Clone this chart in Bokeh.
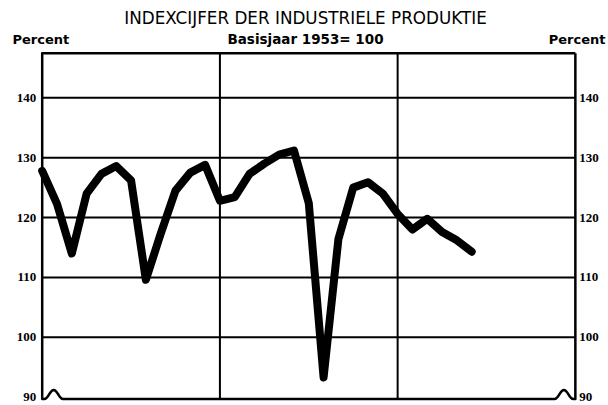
import numpy as np
from bokeh.plotting import figure
from bokeh.models import Label, Range1d
from bokeh.embed import file_html
from bokeh.resources import INLINE

# ---- data (monthly index, base 1953 = 100) ----
months = list(range(30))
index = [127.8, 122.3, 114.0, 124.0, 127.3, 128.6, 126.2, 109.6, 117.3, 124.5,
         127.5, 128.8, 122.8, 123.4, 127.3, 129.0, 130.5, 131.2, 122.4, 93.3,
         116.4, 125.0, 125.9, 124.0, 120.6, 118.0, 119.8, 117.6, 116.2, 114.3]
year_lines = [12, 24]
y_ticks = [90, 100, 110, 120, 130, 140]
y_tick_labels = ["90", "100", "110", "120", "130", "140"]
grid_ticks = [100, 110, 120, 130, 140]
x_start, x_end = 0, 36          # three years of months
y_top = 147.45
y_base = 89.7

title_text = "INDEXCIJFER DER INDUSTRIELE PRODUKTIE"
subtitle_text = "Basisjaar 1953= 100"
unit_text = "Percent"

# ---- layout (pixels) ----
W, H = 608, 405
X0_PX, PX_PER_MONTH = 41.7, 14.81      # canvas x of month 0, px per month
Y90_PX, PX_PER_UNIT = 396.7, 5.988     # canvas y of 90, px per index point
xr0 = x_start - X0_PX / PX_PER_MONTH
xr1 = xr0 + W / PX_PER_MONTH
yr0 = 90 - (H - Y90_PX) / PX_PER_UNIT
yr1 = yr0 + H / PX_PER_UNIT

p = figure(width=W, height=H, output_backend="svg", toolbar_location=None,
           x_range=Range1d(xr0, xr1), y_range=Range1d(yr0, yr1),
           x_axis_location=None, y_axis_location=None,
           min_border=0)
p.outline_line_color = None
p.xgrid.visible = False
p.ygrid.visible = False
p.background_fill_color = "white"
p.border_fill_color = "white"

FONT = "DejaVu Sans"

# horizontal grid lines and year separators
p.segment(x0=[x_start] * len(grid_ticks), y0=grid_ticks,
          x1=[x_end] * len(grid_ticks), y1=grid_ticks,
          line_color="black", line_width=2)
p.segment(x0=year_lines, y0=[y_base] * len(year_lines),
          x1=year_lines, y1=[y_top] * len(year_lines),
          line_color="black", line_width=2)

# ---- frame with break symbols at the bottom corners ----
arch_w, arch_h, arch_off = 1.25, 1.5, 0.15
t = np.linspace(0, 1, 25)
left_arch_x = x_start + arch_off + t * arch_w
right_arch_x = x_end - arch_off - arch_w + t * arch_w
arch_y = y_base + arch_h * np.sin(np.pi * t) ** 2
fx = np.concatenate([[x_end, x_start, x_start], left_arch_x, right_arch_x, [x_end, x_end]])
fy = np.concatenate([[y_top, y_top, y_base], arch_y, arch_y, [y_base, y_top]])
p.line(fx, fy, line_color="black", line_width=2.5, line_join="round")

# ---- data line ----
p.line(months, index, line_color="black", line_width=8, line_join="round",
       line_cap="round")

# ---- tick labels on both sides ----
p.text(x=[x_start] * len(y_ticks), y=y_ticks, text=y_tick_labels,
       x_offset=-6, text_align="right", text_baseline="middle",
       text_font=FONT, text_font_style="bold", text_font_size="13px",
       text_color="black")
p.text(x=[x_end] * len(y_ticks), y=y_ticks, text=y_tick_labels,
       x_offset=4, text_align="left", text_baseline="middle",
       text_font=FONT, text_font_style="bold", text_font_size="13px",
       text_color="black")

# ---- texts (canvas units, measured from the top-left corner) ----
def add_label(txt, x, y, align, size, style):
    p.add_layout(Label(x=x, y=y, x_units="canvas", y_units="canvas",
                       text=txt, text_align=align, text_baseline="middle",
                       text_font=FONT, text_font_size=size, text_font_style=style,
                       text_color="black"))

add_label(title_text, 305, 17.5, "center", "16.8px", "normal")
add_label(subtitle_text, 305, 38.5, "center", "13.5px", "bold")
add_label(unit_text, 12, 38.5, "left", "13px", "bold")
add_label(unit_text, 605, 38.5, "right", "13px", "bold")

open("out.html", "w").write(file_html(p, INLINE))
